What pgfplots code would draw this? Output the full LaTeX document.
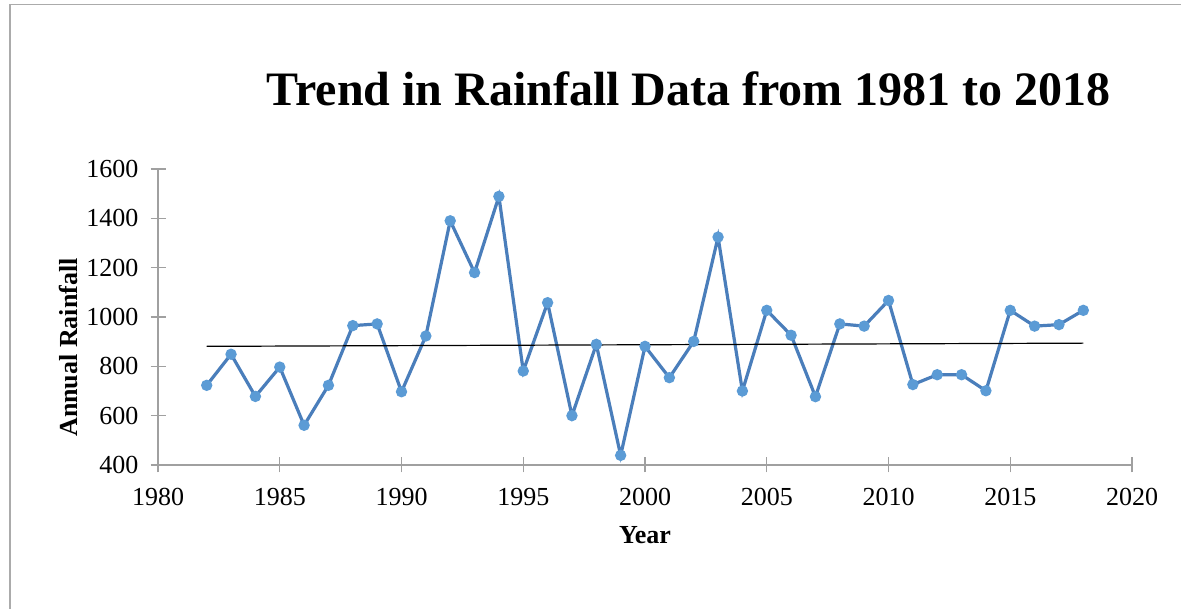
\documentclass[border=0pt]{standalone}
\usepackage{fontspec}
\setmainfont{Liberation Serif}
\usepackage{pgfplots}
\usepackage{pgfplotstable}
\pgfplotsset{compat=1.18}

\definecolor{rainline}{HTML}{4A7EBB}
\definecolor{rainmark}{HTML}{5B9BD5}
\definecolor{axisgray}{HTML}{A0A0A0}
\definecolor{framegray}{HTML}{ABABAB}

\pgfplotstableread{
year rain
1982 723
1983 849
1984 678
1985 797
1986 561
1987 723
1988 965
1989 972
1990 697
1991 923
1992 1390
1993 1180
1994 1489
1995 781
1996 1058
1997 600
1998 889
1999 439
2000 881
2001 754
2002 901
2003 1324
2004 700
2005 1027
2006 926
2007 677
2008 972
2009 963
2010 1067
2011 726
2012 766
2013 766
2014 701
2015 1027
2016 963
2017 969
2018 1027
}\raindata

% trend line as drawn in the source chart
\pgfplotstableread{
year rain
1982 881
2018 894
}\trenddata

\begin{document}
\begin{tikzpicture}
% page = 1181 x 609 px at 0.5pt per px
\path[use as bounding box] (0,0) rectangle (590.5pt,304.5pt);
\draw[framegray, line width=0.7pt] (5pt,0) -- (5pt,302.3pt) -- (590.5pt,302.3pt);

\begin{axis}[
    at={(79pt,72pt)}, anchor=south west,
    scale only axis,
    width=487pt, height=148pt,
    xmin=1980, xmax=2020,
    ymin=400, ymax=1600,
    xtick={1980,1985,...,2020},
    ytick={400,600,...,1600},
    axis lines=left,
    axis line style={-, axisgray, line width=0.7pt},
    tick style={axisgray, line width=0.7pt},
    tick align=center,
    major tick length=7.5pt,
    /pgf/number format/assume math mode=true,
    /pgf/number format/1000 sep={},
    ticklabel style={font=\fontsize{13}{15}\selectfont},
    xticklabel style={yshift=-4.5pt},
    yticklabel style={xshift=-2.5pt},
    title={Trend in Rainfall Data from 1981 to 2018},
    title style={font=\bfseries\fontsize{24}{28}\selectfont,
        at={(axis description cs:0.545,1.209)}, anchor=base, yshift=-5pt},
    xlabel={Year},
    xlabel style={font=\bfseries\fontsize{13}{15}\selectfont,
        at={(axis description cs:0.5,-0.236)}, anchor=center},
    ylabel={Annual Rainfall},
    ylabel style={font=\bfseries\fontsize{13}{15}\selectfont,
        at={(axis description cs:-0.0914,0.397)}, anchor=center},
    clip=false,
]
\addplot[rainline, line width=1.6pt, mark=*, mark size=2pt,
    mark options={fill=rainmark, draw=rainmark}]
    table[x=year, y=rain] {\raindata};
\addplot[black, line width=0.6pt, no marks]
    table[x=year, y=rain] {\trenddata};
\end{axis}
\end{tikzpicture}
\end{document}
